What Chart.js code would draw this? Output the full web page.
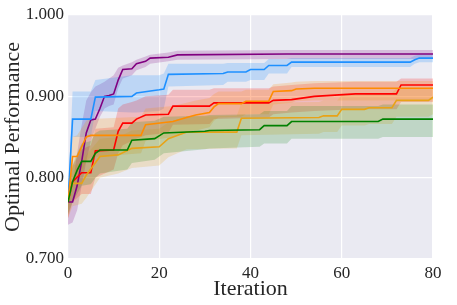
<!DOCTYPE html>
<html>
<head>
<meta charset="utf-8">
<script src="https://cdn.jsdelivr.net/npm/chart.js@4"></script>
<style>
  html, body { margin: 0; padding: 0; background: #fff; }
  #wrap { width: 457px; height: 305px; }
</style>
</head>
<body>
<div id="wrap"><canvas id="perfChart" width="457" height="305"></canvas></div>
<script>
// each row: [iteration, mean, lower, upper]
const purple = [
  [0, 0.770, 0.742, 0.782], [1, 0.770, 0.745, 0.790], [2, 0.790, 0.760, 0.830],
  [3, 0.820, 0.790, 0.865], [4, 0.855, 0.820, 0.895], [5, 0.871, 0.845, 0.905],
  [6, 0.872, 0.860, 0.912], [7, 0.885, 0.875, 0.915], [8, 0.900, 0.885, 0.918],
  [9, 0.901, 0.888, 0.922], [10, 0.903, 0.890, 0.926], [11, 0.920, 0.910, 0.935],
  [12, 0.933, 0.922, 0.938], [14, 0.934, 0.926, 0.942], [15, 0.940, 0.932, 0.945],
  [17, 0.943, 0.936, 0.949], [18, 0.947, 0.940, 0.951], [22, 0.948, 0.943, 0.954],
  [24, 0.951, 0.945, 0.956], [48, 0.952, 0.946, 0.957], [80, 0.952, 0.946, 0.957]
];
const blue = [
  [0, 0.770, 0.765, 0.776], [1, 0.872, 0.850, 0.906], [5, 0.872, 0.850, 0.906],
  [6, 0.899, 0.882, 0.920], [14, 0.900, 0.880, 0.926], [15, 0.904, 0.880, 0.926],
  [20, 0.908, 0.882, 0.926], [21, 0.909, 0.885, 0.928], [22, 0.927, 0.912, 0.940],
  [34, 0.928, 0.914, 0.940], [35, 0.930, 0.918, 0.941], [39, 0.930, 0.918, 0.941],
  [40, 0.933, 0.920, 0.941], [43, 0.933, 0.920, 0.941], [44, 0.938, 0.928, 0.946],
  [48, 0.938, 0.928, 0.946], [49, 0.942, 0.936, 0.947], [75, 0.942, 0.936, 0.947],
  [76, 0.945, 0.940, 0.950], [77, 0.947, 0.942, 0.951], [80, 0.947, 0.942, 0.951]
];
const red = [
  [0, 0.770, 0.750, 0.790], [1, 0.795, 0.770, 0.815], [3, 0.806, 0.780, 0.835],
  [5, 0.806, 0.780, 0.840], [6, 0.833, 0.800, 0.860], [10, 0.834, 0.810, 0.862],
  [11, 0.857, 0.830, 0.885], [12, 0.867, 0.840, 0.890], [14, 0.867, 0.845, 0.893],
  [15, 0.872, 0.848, 0.895], [17, 0.877, 0.852, 0.900], [22, 0.878, 0.855, 0.902],
  [23, 0.888, 0.865, 0.908], [31, 0.888, 0.866, 0.908], [32, 0.892, 0.872, 0.910],
  [44, 0.892, 0.874, 0.910], [45, 0.895, 0.878, 0.912], [49, 0.896, 0.880, 0.914],
  [54, 0.900, 0.882, 0.916], [63, 0.903, 0.884, 0.918], [72, 0.903, 0.884, 0.918],
  [73, 0.914, 0.893, 0.922], [80, 0.914, 0.893, 0.922]
];
const orange = [
  [0, 0.770, 0.755, 0.785], [1, 0.826, 0.790, 0.850], [2, 0.826, 0.795, 0.852],
  [4, 0.850, 0.820, 0.870], [5, 0.852, 0.825, 0.872], [16, 0.852, 0.830, 0.875],
  [17, 0.865, 0.845, 0.885], [23, 0.869, 0.850, 0.888], [26, 0.874, 0.855, 0.892],
  [28, 0.877, 0.858, 0.895], [31, 0.880, 0.862, 0.898], [32, 0.887, 0.870, 0.903],
  [33, 0.891, 0.874, 0.906], [38, 0.891, 0.875, 0.906], [39, 0.894, 0.878, 0.908],
  [44, 0.894, 0.878, 0.908], [45, 0.906, 0.890, 0.915], [49, 0.907, 0.892, 0.917],
  [50, 0.909, 0.894, 0.918], [54, 0.910, 0.895, 0.919], [80, 0.910, 0.895, 0.919]
];
const gold = [
  [0, 0.770, 0.750, 0.785], [1, 0.793, 0.765, 0.815], [3, 0.793, 0.768, 0.818],
  [4, 0.803, 0.775, 0.828], [7, 0.826, 0.800, 0.848], [11, 0.828, 0.805, 0.850],
  [14, 0.836, 0.812, 0.858], [20, 0.838, 0.815, 0.860], [22, 0.848, 0.825, 0.868],
  [26, 0.856, 0.835, 0.875], [37, 0.856, 0.836, 0.876], [38, 0.873, 0.852, 0.892],
  [55, 0.874, 0.854, 0.893], [56, 0.876, 0.856, 0.895], [59, 0.876, 0.856, 0.895],
  [60, 0.884, 0.864, 0.902], [65, 0.884, 0.864, 0.902], [66, 0.886, 0.866, 0.904],
  [71, 0.886, 0.866, 0.904], [72, 0.895, 0.875, 0.910], [79, 0.895, 0.875, 0.910],
  [80, 0.899, 0.878, 0.912]
];
const green = [
  [0, 0.770, 0.755, 0.785], [1, 0.795, 0.770, 0.815], [2, 0.809, 0.780, 0.830],
  [3, 0.820, 0.790, 0.842], [5, 0.820, 0.792, 0.845], [6, 0.830, 0.800, 0.855],
  [7, 0.834, 0.805, 0.858], [13, 0.834, 0.810, 0.860], [14, 0.846, 0.818, 0.868],
  [19, 0.848, 0.822, 0.870], [21, 0.855, 0.830, 0.875], [30, 0.857, 0.835, 0.876],
  [31, 0.858, 0.836, 0.877], [42, 0.859, 0.838, 0.878], [43, 0.864, 0.842, 0.882],
  [48, 0.864, 0.842, 0.882], [49, 0.869, 0.848, 0.888], [68, 0.869, 0.848, 0.888],
  [69, 0.872, 0.850, 0.890], [80, 0.872, 0.850, 0.890]
];

const yTicks = [0.7, 0.8, 0.9, 1.0];
const xTicks = [0, 20, 40, 60, 80];

const series = [
  { rows: green, color: '#008000', band: 'rgba(0,128,0,0.18)' },
  { rows: gold, color: '#e8a317', band: 'rgba(232,163,23,0.2)' },
  { rows: orange, color: '#ff8c00', band: 'rgba(255,140,0,0.2)' },
  { rows: red, color: '#ff0000', band: 'rgba(255,0,0,0.2)' },
  { rows: blue, color: '#1e90ff', band: 'rgba(30,144,255,0.22)' },
  { rows: purple, color: '#800080', band: 'rgba(128,0,128,0.2)' }
];

const datasets = [];
series.forEach(s => {
  datasets.push({
    data: s.rows.map(r => ({ x: r[0], y: r[3] })),
    borderWidth: 0, pointRadius: 0, fill: '+1', backgroundColor: s.band, tension: 0
  });
  datasets.push({
    data: s.rows.map(r => ({ x: r[0], y: r[2] })),
    borderWidth: 0, pointRadius: 0, fill: false, tension: 0
  });
});
series.forEach(s => {
  datasets.push({
    data: s.rows.map(r => ({ x: r[0], y: r[1] })),
    borderColor: s.color, borderWidth: 1.6, pointRadius: 0, fill: false, tension: 0
  });
});

const plotBg = {
  id: 'plotBg',
  beforeDraw(chart) {
    const { ctx, chartArea: a } = chart;
    ctx.save();
    ctx.fillStyle = '#eaeaf2';
    ctx.fillRect(a.left, a.top, a.right - a.left, a.bottom - a.top);
    ctx.restore();
  }
};

const tickFont = { family: '"Liberation Serif", "Times New Roman", serif', size: 17 };
const titleFont = { family: '"Liberation Serif", "Times New Roman", serif', size: 22 };

new Chart(document.getElementById('perfChart').getContext('2d'), {
  type: 'line',
  data: { datasets },
  plugins: [plotBg],
  options: {
    responsive: false,
    animation: false,
    layout: { padding: { top: 15, right: 24, left: 0, bottom: 0 } },
    plugins: {
      legend: { display: false },
      tooltip: { enabled: false },
      filler: { drawTime: 'beforeDatasetsDraw' }
    },
    scales: {
      x: {
        type: 'linear', min: 0, max: 80,
        afterFit: scale => { scale.height = 46; },
        afterBuildTicks: scale => { scale.ticks = xTicks.map(v => ({ value: v })); },
        grid: { color: '#ffffff', lineWidth: 1.2, drawTicks: false },
        border: { display: false },
        ticks: { font: tickFont, color: '#262626', padding: 4, maxRotation: 0 },
        title: { display: true, text: 'Iteration', font: titleFont, color: '#262626', padding: { top: 0, bottom: 3 } }
      },
      y: {
        type: 'linear', min: 0.7, max: 1.0,
        afterFit: scale => { scale.width = 68; },
        afterBuildTicks: scale => { scale.ticks = yTicks.map(v => ({ value: v })); },
        grid: { color: '#ffffff', lineWidth: 1.2, drawTicks: false },
        border: { display: false },
        ticks: { font: tickFont, color: '#262626', padding: 4, callback: v => v.toFixed(3) },
        title: { display: true, text: 'Optimal Performance', font: titleFont, color: '#262626', padding: { top: 0, bottom: 0 } }
      }
    }
  }
});
</script>
</body>
</html>
